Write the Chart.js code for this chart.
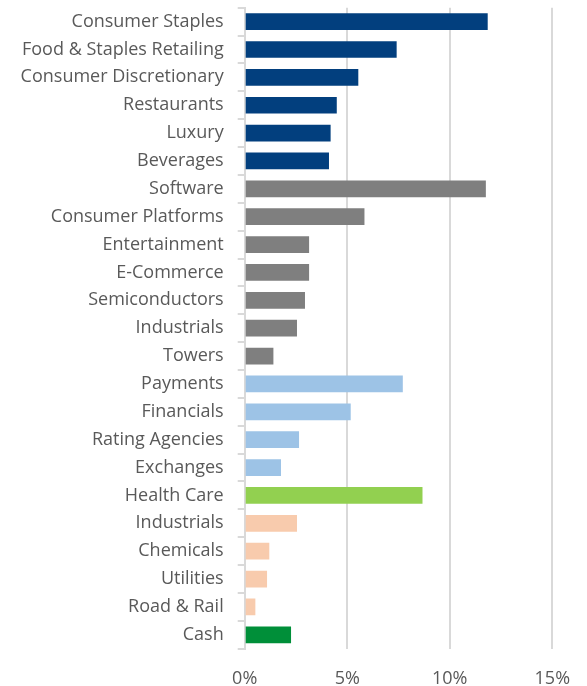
<!DOCTYPE html>
<html>
<head>
<meta charset="utf-8">
<script src="https://cdn.jsdelivr.net/npm/chart.js@4/dist/chart.umd.min.js"></script>
<style>
html,body{margin:0;padding:0;background:#fff;}
#wrap{width:587px;height:686px;}
</style>
</head>
<body>
<div id="wrap"><canvas id="c" width="587" height="686"></canvas></div>
<script>
const categories = ["Consumer Staples","Food & Staples Retailing","Consumer Discretionary","Restaurants","Luxury","Beverages","Software","Consumer Platforms","Entertainment","E-Commerce","Semiconductors","Industrials","Towers","Payments","Financials","Rating Agencies","Exchanges","Health Care","Industrials","Chemicals","Utilities","Road & Rail","Cash"];
const weights = [11.85,7.41,5.54,4.49,4.19,4.11,11.76,5.84,3.14,3.14,2.94,2.55,1.40,7.71,5.17,2.65,1.77,8.67,2.55,1.20,1.09,0.52,2.26];
const groups = ["staples","staples","staples","staples","staples","staples","tech","tech","tech","tech","tech","tech","tech","fin","fin","fin","fin","health","materials","materials","materials","materials","cash"];
const xTicks = [0,5,10,15];

const groupColors = {staples:"#023F7E", tech:"#7F7F7F", fin:"#9DC3E6", health:"#92D050", materials:"#F8CBAD", cash:"#008F39"};

new Chart(document.getElementById('c'), {
  type: 'bar',
  data: {
    labels: categories,
    datasets: [{
      data: weights,
      backgroundColor: groups.map(g => groupColors[g]),
      categoryPercentage: 1,
      barPercentage: 0.6,
      borderWidth: 0
    }]
  },
  options: {
    indexAxis: 'y',
    responsive: false,
    animation: false,
    layout: {padding: {top: 7.7, right: 34.7, left: 0, bottom: 0}},
    plugins: {legend: {display: false}, tooltip: {enabled: false}},
    scales: {
      x: {
        min: 0, max: 15,
        afterBuildTicks: s => { s.ticks = xTicks.map(v => ({value: v})); },
        grid: {color: '#D9D9D9', lineWidth: 2, drawTicks: false},
        border: {display: false},
        ticks: {
          padding: 19,
          color: '#595959',
          font: {family: 'Open Sans', size: 18},
          callback: v => v + '%'
        },
        afterFit: s => { s.height = 37.3; s.paddingLeft = 0; s.paddingRight = 0; }
      },
      y: {
        grid: {display: true, drawOnChartArea: false, drawTicks: true, tickLength: 7, color: '#D9D9D9', lineWidth: 2, offset: true},
        border: {display: true, color: '#D9D9D9', width: 2},
        ticks: {
          padding: 14,
          color: '#595959',
          font: {family: 'Open Sans', size: 18},
          autoSkip: false
        },
        afterFit: s => { s.width = 244.7; s.paddingTop = 0; s.paddingBottom = 0; }
      }
    }
  }
});
</script>
</body>
</html>
